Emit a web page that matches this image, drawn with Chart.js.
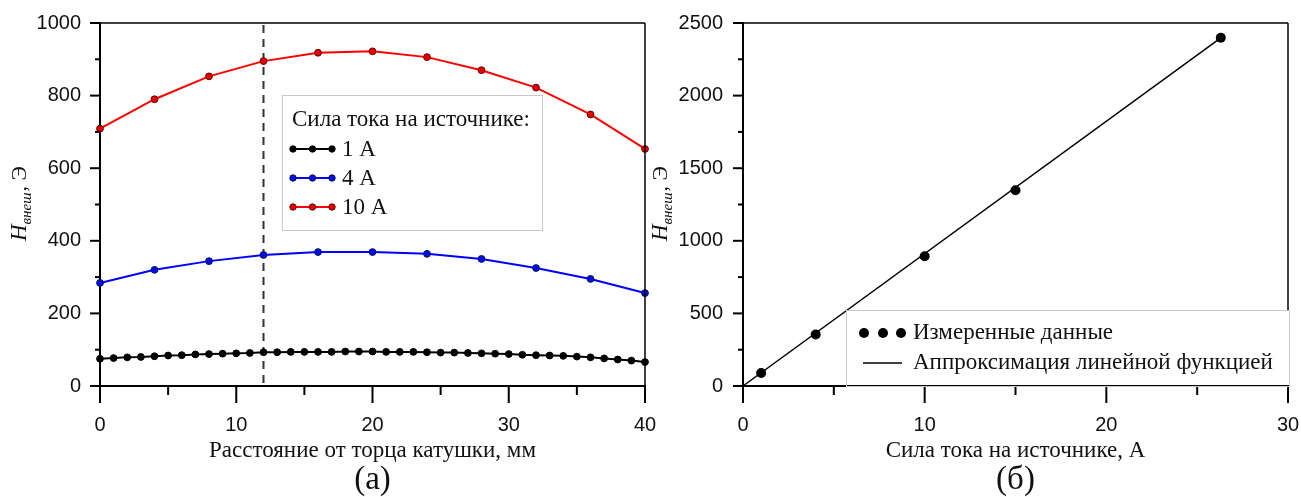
<!DOCTYPE html>
<html>
<head>
<meta charset="utf-8">
<script src="https://cdn.jsdelivr.net/npm/chart.js@4/dist/chart.umd.min.js"></script>
<style>
html, body { margin: 0; padding: 0; background: #fff; }
#wrap { position: relative; width: 1301px; height: 497px; }
.box { position: absolute; top: 0; height: 497px; }
</style>
</head>
<body>
<div id="wrap">
  <div class="box" style="left:0;width:660px"><canvas id="chartA" width="660" height="497"></canvas></div>
  <div class="box" style="left:650px;width:651px"><canvas id="chartB" width="651" height="497"></canvas></div>
</div>
<script>
// (a) field vs distance from coil end
var distFine = [0,1,2,3,4,5,6,7,8,9,10,11,12,13,14,15,16,17,18,19,20,21,22,23,24,25,26,27,28,29,30,31,32,33,34,35,36,37,38,39,40];
var field1A = [75,77,79,80,82,84,85,87,88,89,90,91,93,93,94,94,94,94,95,95,95,94,94,94,93,92,92,91,90,89,88,86,85,84,83,81,79,76,73,70,66];
var distCoarse = [0,4,8,12,16,20,24,28,32,36,40];
var field4A = [284,320,344,361,369,369,364,350,325,295,256];
var field10A = [709,790,853,895,918,922,906,870,822,748,653];
var markerLine = 12;

// (б) field vs source current
var current = [1, 4, 10, 15, 26.3];
var fieldMeasured = [90, 355, 893, 1348, 2398];
var fitCurrent = [0, 26.3];
var fitField = [0, 2398];

var serif = "'Liberation Serif', 'Times New Roman', serif";
var sans = "'Liberation Sans', Arial, sans-serif";

function pts(xs, ys) {
  return xs.map(function(x, i) { return {x: x, y: ys[i]}; });
}

function line(ctx, x1, y1, x2, y2) {
  ctx.beginPath(); ctx.moveTo(x1, y1); ctx.lineTo(x2, y2); ctx.stroke();
}

// frame, tick marks and axis titles shared by both panels
function framePlugin(o) {
  return {
    id: 'frame',
    beforeDatasetsDraw: function(chart) {
      var ctx = chart.ctx, a = chart.chartArea, x = chart.scales.x;
      if (o.dashAt != null) {
        var px = x.getPixelForValue(o.dashAt);
        ctx.save();
        ctx.strokeStyle = '#333'; ctx.lineWidth = 2; ctx.setLineDash([8, 6]);
        line(ctx, px, a.top + 2, px, a.bottom);
        ctx.restore();
      }
    },
    afterDraw: function(chart) {
      var ctx = chart.ctx, a = chart.chartArea, x = chart.scales.x, y = chart.scales.y;
      ctx.save();
      ctx.strokeStyle = '#000';
      ctx.lineWidth = 1.5;
      line(ctx, a.left, a.top, a.right, a.top);
      line(ctx, a.right, a.top, a.right, a.bottom);
      ctx.lineWidth = 2;
      var v, p, major;
      for (v = x.min; v <= x.max + 1e-9; v += o.xMinor) {
        major = Math.abs(v / o.xMajor - Math.round(v / o.xMajor)) < 1e-6;
        p = x.getPixelForValue(v);
        line(ctx, p, a.bottom, p, a.bottom + (major ? 17 : 9));
      }
      for (v = y.min; v <= y.max + 1e-9; v += o.yMinor) {
        major = Math.abs(v / o.yMajor - Math.round(v / o.yMajor)) < 1e-6;
        p = y.getPixelForValue(v);
        line(ctx, a.left, p, a.left - (major ? 10 : 5), p);
      }

      // x title and panel letter
      var cx = (a.left + a.right) / 2 + o.titleShift;
      ctx.fillStyle = '#111';
      ctx.textAlign = 'center';
      ctx.textBaseline = 'alphabetic';
      ctx.font = '23px ' + serif;
      ctx.fillText(o.xTitle, cx, 457);
      ctx.font = '33px ' + serif;
      ctx.fillText(o.panel, cx, 489);

      // y title: H with subscript
      ctx.translate(o.yTitleX, 204);
      ctx.rotate(-Math.PI / 2);
      ctx.textAlign = 'left';
      var fH = 'italic 23px ' + serif, fS = 'italic 15px ' + serif, fR = '22px ' + serif;
      ctx.font = fH; var wH = ctx.measureText('H').width;
      ctx.font = fS; var wS = ctx.measureText('внеш').width;
      ctx.font = fR; var wR = ctx.measureText(', Э').width;
      var sx = -(wH + wS + wR) / 2;
      ctx.font = fH; ctx.fillText('H', sx, 0);
      ctx.font = fS; ctx.fillText('внеш', sx + wH, 5);
      ctx.font = fR; ctx.fillText(', Э', sx + wH + wS + 1, 0);
      ctx.restore();

      o.legend(ctx);
    }
  };
}

function plain(v) { return String(v); }

function scalesFor(o) {
  return {
    x: {
      type: 'linear', min: o.xMin, max: o.xMax,
      grid: { display: false, drawTicks: false },
      border: { display: true, color: '#000', width: 2 },
      ticks: {
        stepSize: o.xMajor, padding: 27, color: '#111', callback: plain,
        font: { family: sans, size: 20 }, maxRotation: 0
      },
      afterFit: function(s) { s.height = 111; s.paddingLeft = 0; s.paddingRight = 0; }
    },
    y: {
      type: 'linear', min: o.yMin, max: o.yMax,
      grid: { display: false, drawTicks: false },
      border: { display: true, color: '#000', width: 2 },
      ticks: {
        stepSize: o.yMajor, padding: o.yPad, color: '#111', callback: plain,
        font: { family: sans, size: 20 }
      },
      afterFit: function(s) { s.width = o.yWidth; s.paddingTop = 0; s.paddingBottom = 0; }
    }
  };
}

function drawDot(ctx, x, y, r, fill, stroke) {
  ctx.beginPath(); ctx.arc(x, y, r, 0, Math.PI * 2);
  ctx.fillStyle = fill; ctx.fill();
  if (stroke) { ctx.lineWidth = 1; ctx.strokeStyle = stroke; ctx.stroke(); }
}

// ---------- panel (a) ----------
var seriesA = [
  { label: '1 A', data: pts(distFine, field1A), line: '#000', fill: '#000', edge: '#000' },
  { label: '4 A', data: pts(distCoarse, field4A), line: '#0000ff', fill: '#0010e0', edge: '#001060' },
  { label: '10 A', data: pts(distCoarse, field10A), line: '#ff0000', fill: '#e80000', edge: '#600000' }
];

var optsA = {
  xMin: 0, xMax: 40, xMajor: 10, xMinor: 5,
  yMin: 0, yMax: 1000, yMajor: 200, yMinor: 100,
  yWidth: 100, yPad: 19, yTitleX: 26, titleShift: 0,
  dashAt: markerLine,
  xTitle: 'Расстояние от торца катушки, мм', panel: '(а)',
  legend: function(ctx) {
    ctx.save();
    ctx.fillStyle = '#fff';
    ctx.fillRect(282, 95, 261, 136);
    ctx.strokeStyle = '#c8c8c8'; ctx.lineWidth = 1;
    ctx.strokeRect(282.5, 95.5, 260, 135);
    ctx.fillStyle = '#111';
    ctx.font = '23px ' + serif;
    ctx.textBaseline = 'middle';
    ctx.textAlign = 'left';
    ctx.fillText('Сила тока на источнике:', 292, 120);
    var rows = [149, 178, 207];
    seriesA.forEach(function(s, i) {
      var yy = rows[i];
      ctx.strokeStyle = s.line; ctx.lineWidth = 2;
      line(ctx, 293, yy, 332, yy);
      [293, 312.5, 332].forEach(function(mx) { drawDot(ctx, mx, yy, 3.2, s.fill, s.edge); });
      ctx.fillStyle = '#111';
      ctx.fillText(s.label, 342, yy + 1);
    });
    ctx.restore();
  }
};

new Chart(document.getElementById('chartA'), {
  type: 'line',
  data: {
    datasets: seriesA.map(function(s) {
      return {
        label: s.label, data: s.data,
        borderColor: s.line, borderWidth: 2,
        pointRadius: 3.4, pointBackgroundColor: s.fill,
        pointBorderColor: s.edge, pointBorderWidth: 1,
        tension: 0, clip: false
      };
    })
  },
  options: {
    responsive: false, animation: false,
    layout: { padding: { left: 0, top: 23, right: 15, bottom: 0 } },
    plugins: { legend: { display: false }, tooltip: { enabled: false } },
    scales: scalesFor(optsA)
  },
  plugins: [framePlugin(optsA)]
});

// ---------- panel (б) ----------
var optsB = {
  xMin: 0, xMax: 30, xMajor: 10, xMinor: 5,
  yMin: 0, yMax: 2500, yMajor: 500, yMinor: 250,
  yWidth: 93, yPad: 20, yTitleX: 17, titleShift: 0,
  dashAt: null,
  xTitle: 'Сила тока на источнике, А', panel: '(б)',
  legend: function(ctx) {
    ctx.save();
    ctx.fillStyle = '#fff';
    ctx.fillRect(196, 310, 444, 75);
    ctx.strokeStyle = '#c8c8c8'; ctx.lineWidth = 1;
    ctx.strokeRect(196.5, 310.5, 443, 76);
    ctx.font = '23px ' + serif;
    ctx.textBaseline = 'middle';
    ctx.textAlign = 'left';
    [214, 233, 251].forEach(function(mx) { drawDot(ctx, mx, 333, 5, '#000'); });
    ctx.fillStyle = '#111';
    ctx.fillText('Измеренные данные', 263, 333);
    ctx.strokeStyle = '#000'; ctx.lineWidth = 1.5;
    line(ctx, 213, 363, 252, 363);
    ctx.fillText('Аппроксимация линейной функцией', 263, 363);
    ctx.restore();
  }
};

new Chart(document.getElementById('chartB'), {
  type: 'scatter',
  data: {
    datasets: [
      {
        label: 'Измеренные данные', data: pts(current, fieldMeasured),
        pointRadius: 5, pointBackgroundColor: '#000', pointBorderWidth: 0,
        showLine: false, clip: false
      },
      {
        label: 'Аппроксимация линейной функцией', data: pts(fitCurrent, fitField),
        showLine: true, borderColor: '#000', borderWidth: 1.5,
        pointRadius: 0, clip: false
      }
    ]
  },
  options: {
    responsive: false, animation: false,
    layout: { padding: { left: 0, top: 23, right: 13, bottom: 0 } },
    plugins: { legend: { display: false }, tooltip: { enabled: false } },
    scales: scalesFor(optsB)
  },
  plugins: [framePlugin(optsB)]
});
</script>
</body>
</html>
